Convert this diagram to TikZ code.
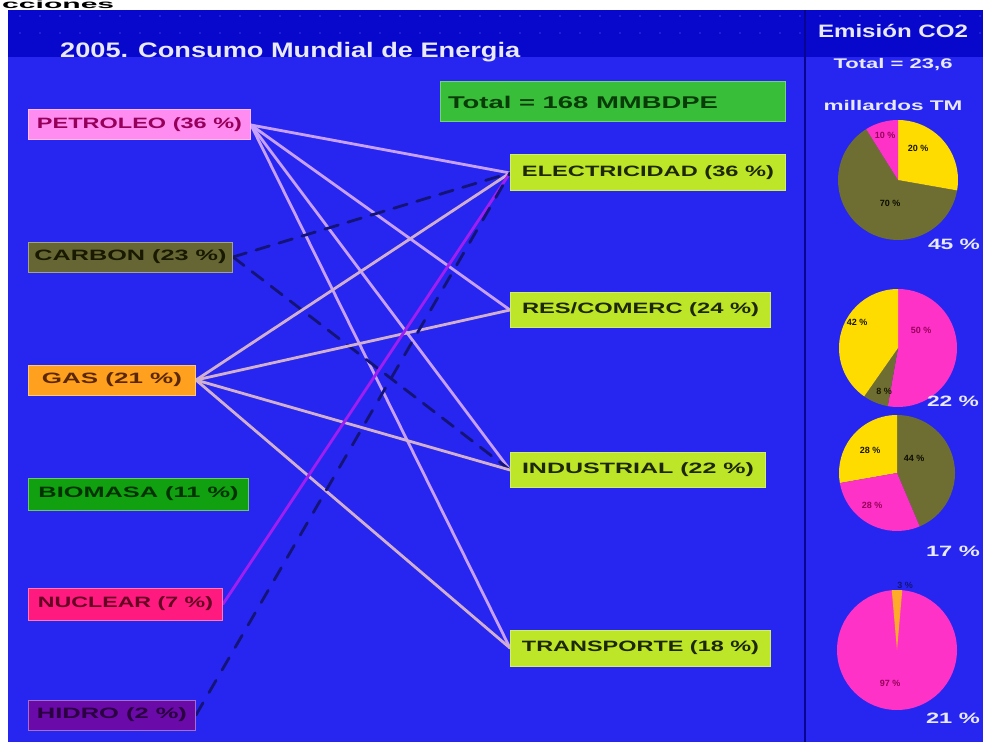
\documentclass[tikz,border=0pt]{standalone}
\usepackage{fontspec}
\setmainfont{Liberation Sans}
\usepackage{graphicx}
\pgfdeclarelayer{bg}
\pgfdeclarelayer{lines}
\pgfsetlayers{bg,lines,main}
\definecolor{panelblue}{RGB}{38,38,240}
\definecolor{topblue}{RGB}{8,8,205}
\definecolor{petrofill}{RGB}{255,140,240}
\definecolor{petrotext}{RGB}{150,0,90}
\definecolor{carbfill}{RGB}{102,102,52}
\definecolor{carbtext}{RGB}{25,25,0}
\definecolor{gasfill}{RGB}{255,160,30}
\definecolor{gastext}{RGB}{90,40,0}
\definecolor{biofill}{RGB}{16,160,16}
\definecolor{biotext}{RGB}{0,50,0}
\definecolor{nucfill}{RGB}{255,26,128}
\definecolor{nuctext}{RGB}{100,0,34}
\definecolor{hidfill}{RGB}{106,10,168}
\definecolor{hidtext}{RGB}{42,0,64}
\definecolor{totfill}{RGB}{56,190,56}
\definecolor{tottext}{RGB}{10,60,10}
\definecolor{secfill}{RGB}{190,230,40}
\definecolor{sectext}{RGB}{30,40,0}
\definecolor{pieolive}{RGB}{110,110,50}
\definecolor{piepink}{RGB}{255,50,200}
\definecolor{pieyellow}{RGB}{255,220,0}
\definecolor{pieorange}{RGB}{255,170,40}
\definecolor{petroline}{RGB}{200,160,255}
\definecolor{gasline}{RGB}{210,175,205}
\definecolor{darkline}{RGB}{20,20,120}
\definecolor{nucline}{RGB}{160,30,240}
\definecolor{lighttext}{RGB}{232,232,255}
\newcommand\fitw[3]{\resizebox{#1pt}{\height}{\fontsize{#2}{#2}\selectfont\bfseries #3}}
\tikzset{
  srcbox/.style={draw=#1!60!white, line width=1pt, fill=#1, anchor=west, inner sep=0pt},
  secbox/.style={draw=secfill!70!white, line width=1pt, fill=secfill, anchor=west, inner sep=0pt, text=sectext},
  conn/.style={line width=2.8pt, line cap=round},
  whitetxt/.style={text=lighttext, inner sep=0pt},
  pielbl/.style={inner sep=0pt, font=\fontsize{9}{9}\selectfont\bfseries}
}
\begin{document}
\begin{tikzpicture}[x=1pt,y=-1pt]
\useasboundingbox (0,0) rectangle (983,749);
\begin{pgfonlayer}{bg}
  \fill[white] (0,0) rectangle (983,749);
  \node[anchor=base west, inner sep=0pt, text=black] (cut) at (2,9) {\fitw{112}{12}{cciones}};
  \fill[panelblue] (8,10) rectangle (983,742);
  \fill[topblue] (8,10) rectangle (983,57);
  \foreach \i in {0,...,48} {
    \fill[panelblue!70!white, opacity=0.5] (20+20*\i,16) circle (0.8);
    \fill[panelblue!70!white, opacity=0.5] (20+20*\i,33) circle (0.8);
  }
  \draw[line width=1.2pt, topblue!70!black] (805,10) -- (805,742);
\end{pgfonlayer}

% title
\node[whitetxt, anchor=west] (title) at (60,52) {\fitw{460}{21}{2005. Consumo Mundial de Energia}};

% sources
\node[srcbox=petrofill, minimum width=222, minimum height=30, text=petrotext] (petro) at (28,125) {\fitw{205}{15}{PETROLEO (36 \%)}};
\node[srcbox=carbfill, minimum width=204, minimum height=30, text=carbtext] (carb) at (28,257) {\fitw{192}{15}{CARBON (23 \%)}};
\node[srcbox=gasfill, minimum width=167, minimum height=30, text=gastext] (gas) at (28,380) {\fitw{140}{15}{GAS (21 \%)}};
\node[srcbox=biofill, minimum width=220, minimum height=32, text=biotext] (bio) at (28,494) {\fitw{200}{15}{BIOMASA (11 \%)}};
\node[srcbox=nucfill, minimum width=194, minimum height=32, text=nuctext] (nuc) at (28,604) {\fitw{175}{15}{NUCLEAR (7 \%)}};
\node[srcbox=hidfill, minimum width=167, minimum height=30, text=hidtext] (hid) at (28,715) {\fitw{150}{15}{HIDRO (2 \%)}};

% total
\node[draw=totfill!70!white, line width=1pt, fill=totfill, anchor=west, inner sep=0pt, minimum width=345, minimum height=40, text=tottext] (total) at (440,102) {\makebox[330pt][l]{\fitw{270}{17}{Total = 168 MMBDPE}}};

% sectors
\node[secbox, minimum width=275, minimum height=36] (elec) at (510,173) {\fitw{252}{15}{ELECTRICIDAD (36 \%)}};
\node[secbox, minimum width=260, minimum height=35] (res) at (510,310) {\fitw{237}{15}{RES/COMERC (24 \%)}};
\node[secbox, minimum width=255, minimum height=35] (ind) at (510,470) {\fitw{232}{15}{INDUSTRIAL (22 \%)}};
\node[secbox, minimum width=260, minimum height=36] (trans) at (510,648) {\fitw{237}{15}{TRANSPORTE (18 \%)}};

% connectors
\begin{pgfonlayer}{lines}
  \draw[conn, petroline] (petro.east) -- (elec.west);
  \draw[conn, petroline] (petro.east) -- (res.west);
  \draw[conn, petroline] (petro.east) -- (ind.west);
  \draw[conn, petroline] (petro.east) -- (trans.west);
  \draw[conn, darkline, dash pattern=on 14pt off 10pt] (carb.east) -- (elec.west);
  \draw[conn, darkline, dash pattern=on 14pt off 10pt] (carb.east) -- (ind.west);
  \draw[conn, gasline] (gas.east) -- (elec.west);
  \draw[conn, gasline] (gas.east) -- (res.west);
  \draw[conn, gasline] (gas.east) -- (ind.west);
  \draw[conn, gasline] (gas.east) -- (trans.west);
  \draw[conn, nucline] (nuc.east) -- (elec.west);
  \draw[conn, darkline, dash pattern=on 14pt off 12pt] (hid.east) -- (elec.west);
\end{pgfonlayer}

% CO2 header
\node[whitetxt] (emis) at (893,31) {\fitw{150}{18}{Emisión CO2}};
\node[whitetxt] (tot2) at (893,65) {\fitw{119}{14}{Total = 23,6}};
\node[whitetxt] (mill) at (893,105) {\fitw{139}{14}{millardos TM}};

% pie 1
\begin{scope}[shift={(898,180)}, yscale=-1]
  \fill[pieolive] (0,0) -- (122:60) arc[start angle=122, end angle=350, radius=60] -- cycle;
  \fill[pieyellow] (0,0) -- (-10:60) arc[start angle=-10, end angle=90, radius=60] -- cycle;
  \fill[piepink] (0,0) -- (90:60) arc[start angle=90, end angle=122, radius=60] -- cycle;
\end{scope}
\node[pielbl, text=petrotext] (p1a) at (885,135) {10 \%};
\node[pielbl, text=carbtext] (p1b) at (918,148) {20 \%};
\node[pielbl, text=carbtext!50!black] (p1c) at (890,203) {70 \%};
\node[whitetxt] (pc1) at (954,244) {\fitw{52}{15}{45 \%}};

% pie 2
\begin{scope}[shift={(898,348)}, yscale=-1]
  \fill[piepink] (0,0) -- (-100:59) arc[start angle=-100, end angle=90, radius=59] -- cycle;
  \fill[pieolive] (0,0) -- (-125:59) arc[start angle=-125, end angle=-100, radius=59] -- cycle;
  \fill[pieyellow] (0,0) -- (90:59) arc[start angle=90, end angle=235, radius=59] -- cycle;
\end{scope}
\node[pielbl, text=carbtext] (p2a) at (857,322) {42 \%};
\node[pielbl, text=petrotext] (p2b) at (921,330) {50 \%};
\node[pielbl, text=carbtext] (p2c) at (884,391) {8 \%};
\node[whitetxt] (pc2) at (953,401) {\fitw{52}{15}{22 \%}};

% pie 3
\begin{scope}[shift={(897,473)}, yscale=-1]
  \fill[pieolive] (0,0) -- (-67:58) arc[start angle=-67, end angle=90, radius=58] -- cycle;
  \fill[pieyellow] (0,0) -- (90:58) arc[start angle=90, end angle=190, radius=58] -- cycle;
  \fill[piepink] (0,0) -- (190:58) arc[start angle=190, end angle=293, radius=58] -- cycle;
\end{scope}
\node[pielbl, text=carbtext] (p3a) at (870,450) {28 \%};
\node[pielbl, text=carbtext!50!black] (p3b) at (914,458) {44 \%};
\node[pielbl, text=petrotext] (p3c) at (872,505) {28 \%};
\node[whitetxt] (pc3) at (953,551) {\fitw{54}{15}{17 \%}};

% pie 4
\begin{scope}[shift={(897,650)}, yscale=-1]
  \fill[piepink] (0,0) circle (60);
  \fill[pieorange] (0,0) -- (85:60) arc[start angle=85, end angle=95, radius=60] -- cycle;
\end{scope}
\node[pielbl, text=petrotext] (p4a) at (890,683) {97 \%};
\node[pielbl, text=darkline] (p4b) at (905,585) {3 \%};
\node[whitetxt] (pc4) at (953,718) {\fitw{54}{15}{21 \%}};
\end{tikzpicture}
\end{document}
